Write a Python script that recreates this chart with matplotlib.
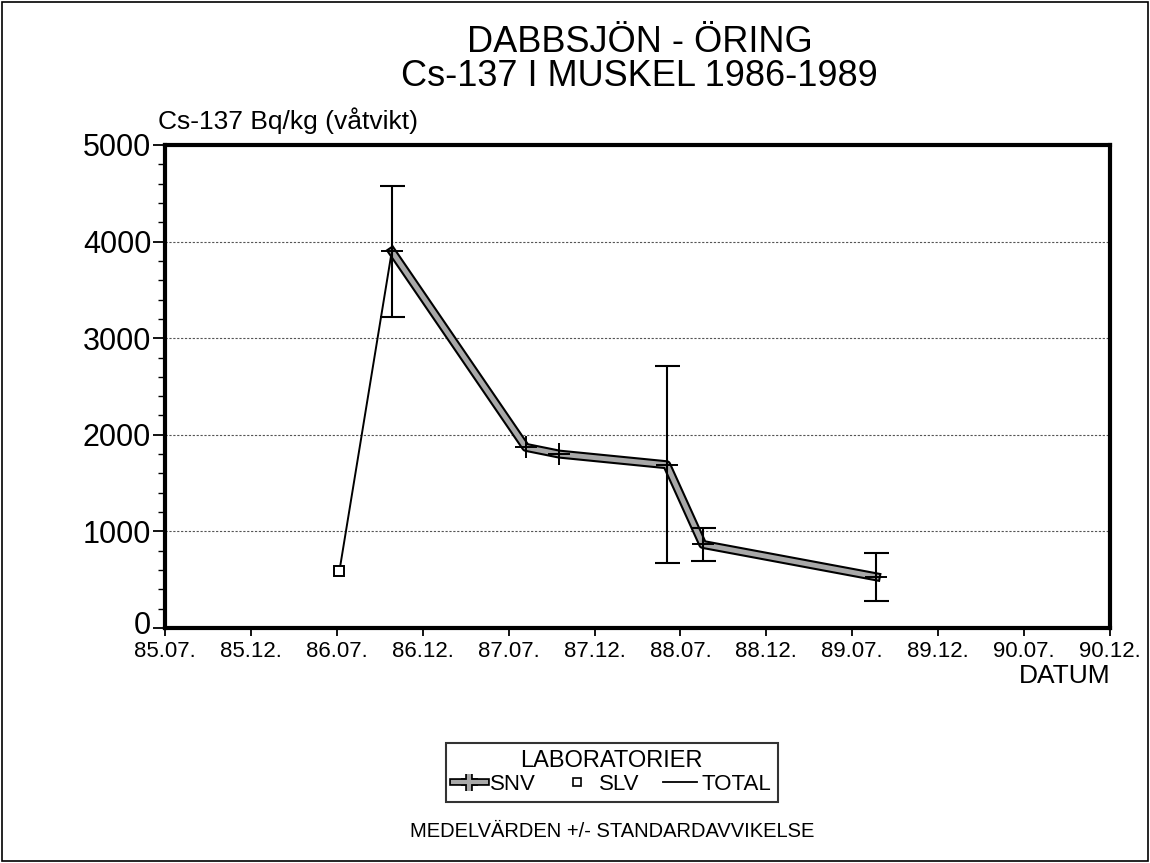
import matplotlib
matplotlib.use("Agg")
import matplotlib.pyplot as plt
import matplotlib.patheffects as pe
import matplotlib.transforms as mtransforms
from matplotlib.lines import Line2D
from matplotlib.patches import Rectangle
import numpy as np

plt.rcParams["font.family"] = ["Liberation Sans", "DejaVu Sans"]

# x positions are in tick units: 0 = 85.07, 1 = 85.12, 2 = 86.07 ...
tick_labels = ["85.07.", "85.12.", "86.07.", "86.12.", "87.07.", "87.12.",
               "88.07.", "88.12.", "89.07.", "89.12.", "90.07.", "90.12."]

snv_x = [2.64, 4.20, 4.59, 5.84, 6.26, 8.28]
snv_y = [3900, 1870, 1800, 1690, 865, 530]
snv_sd = [680, 0, 0, 1020, 175, 250]

slv_x = [2.03]
slv_y = [590]

fig = plt.figure(figsize=(11.5, 8.63), dpi=100)
ax = fig.add_axes([0.1435, 0.2723, 0.8217, 0.5597])

# TOTAL: thin line through all means in time order
tot = sorted(zip(slv_x + snv_x, slv_y + snv_y))
ax.plot([p[0] for p in tot], [p[1] for p in tot], color="black", lw=1.4, zorder=3)

# SNV: thick outlined grey line
snv_fx = [
    pe.Stroke(linewidth=6.5, foreground="black"),
    pe.Stroke(linewidth=3.5, foreground="#a8a8a8"),
]
ax.plot(snv_x, snv_y, color="#a8a8a8", lw=3.5, zorder=4, path_effects=snv_fx)
ax.plot(snv_x, snv_y, ls="none", marker="+", ms=16, mew=1.4, color="black", zorder=5)

# error bars for SNV
ex = [x for x, s in zip(snv_x, snv_sd) if s > 0]
ey = [y for y, s in zip(snv_y, snv_sd) if s > 0]
es = [s for s in snv_sd if s > 0]
ax.errorbar(ex, ey, yerr=es, fmt="none", ecolor="black", elinewidth=1.5,
            capsize=9, capthick=1.5, zorder=5)

# SLV
ax.plot(slv_x, slv_y, ls="none", marker="s", ms=7, mfc="white", mec="black",
        mew=1.4, zorder=6)

ax.set_xlim(0, 11)
ax.set_ylim(0, 5000)
ax.set_xticks(range(len(tick_labels)))
ax.set_xticklabels(tick_labels, fontsize=16)
ax.set_yticks([0, 1000, 2000, 3000, 4000, 5000])
ax.set_yticklabels(["0", "1000", "2000", "3000", "4000", "5000"], fontsize=22)
ax.set_yticks(np.arange(0, 5001, 200), minor=True)
ax.tick_params(axis="y", which="major", direction="out", length=9, width=1.3, pad=1)
ax.tick_params(axis="y", which="minor", direction="out", length=5, width=1.0)
ax.tick_params(axis="x", which="major", direction="out", length=6, width=1.3, pad=3)
# nudge the "0" label up a little so it clears the date labels
zero_lbl = ax.get_yticklabels()[0]
zero_lbl.set_transform(zero_lbl.get_transform() +
                       mtransforms.ScaledTranslation(0, 4 / 72, fig.dpi_scale_trans))
for s in ax.spines.values():
    s.set_linewidth(3)

for gy in [1000, 2000, 3000, 4000]:
    ax.axhline(gy, color="#555555", lw=0.8, ls=(0, (2, 1.5)), zorder=1)

# texts
fig.text(0.556, 0.951, "DABBSJÖN - ÖRING", ha="center", va="center", fontsize=26)
fig.text(0.556, 0.911, "Cs-137 I MUSKEL 1986-1989", ha="center", va="center", fontsize=26)
fig.text(0.137, 0.860, "Cs-137 Bq/kg (våtvikt)", ha="left", va="center", fontsize=19)
fig.text(0.966, 0.217, "DATUM", ha="right", va="center", fontsize=19)
fig.text(0.532, 0.036, "MEDELVÄRDEN +/- STANDARDAVVIKELSE", ha="center",
         va="center", fontsize=14.5)

h_snv = Line2D([], [], color="#a8a8a8", lw=3, marker="+", ms=12, mew=1.2,
               mec="black", path_effects=[pe.Stroke(linewidth=5.5, foreground="black"),
                                          pe.Stroke(linewidth=3, foreground="#a8a8a8")])
h_slv = Line2D([], [], ls="none", marker="s", ms=6, mfc="white", mec="black", mew=1.2)
h_tot = Line2D([], [], color="black", lw=1.3)
leg = fig.legend([h_snv, h_slv, h_tot], ["SNV", "SLV", "TOTAL"], ncol=3,
                 title="LABORATORIER", loc="center", bbox_to_anchor=(0.532, 0.105),
                 fontsize=16, title_fontsize=17, frameon=True, fancybox=False,
                 handlelength=1.5, handletextpad=0.2, columnspacing=1.1,
                 borderpad=0.3, labelspacing=0.1, borderaxespad=0)
leg.get_frame().set_edgecolor("black")
leg.get_frame().set_linewidth(1.5)

fig.patches.append(Rectangle((0.002, 0.002), 0.996, 0.996, transform=fig.transFigure,
                             fill=False, edgecolor="black", lw=1.2))

fig.savefig("out.png", dpi=100)
